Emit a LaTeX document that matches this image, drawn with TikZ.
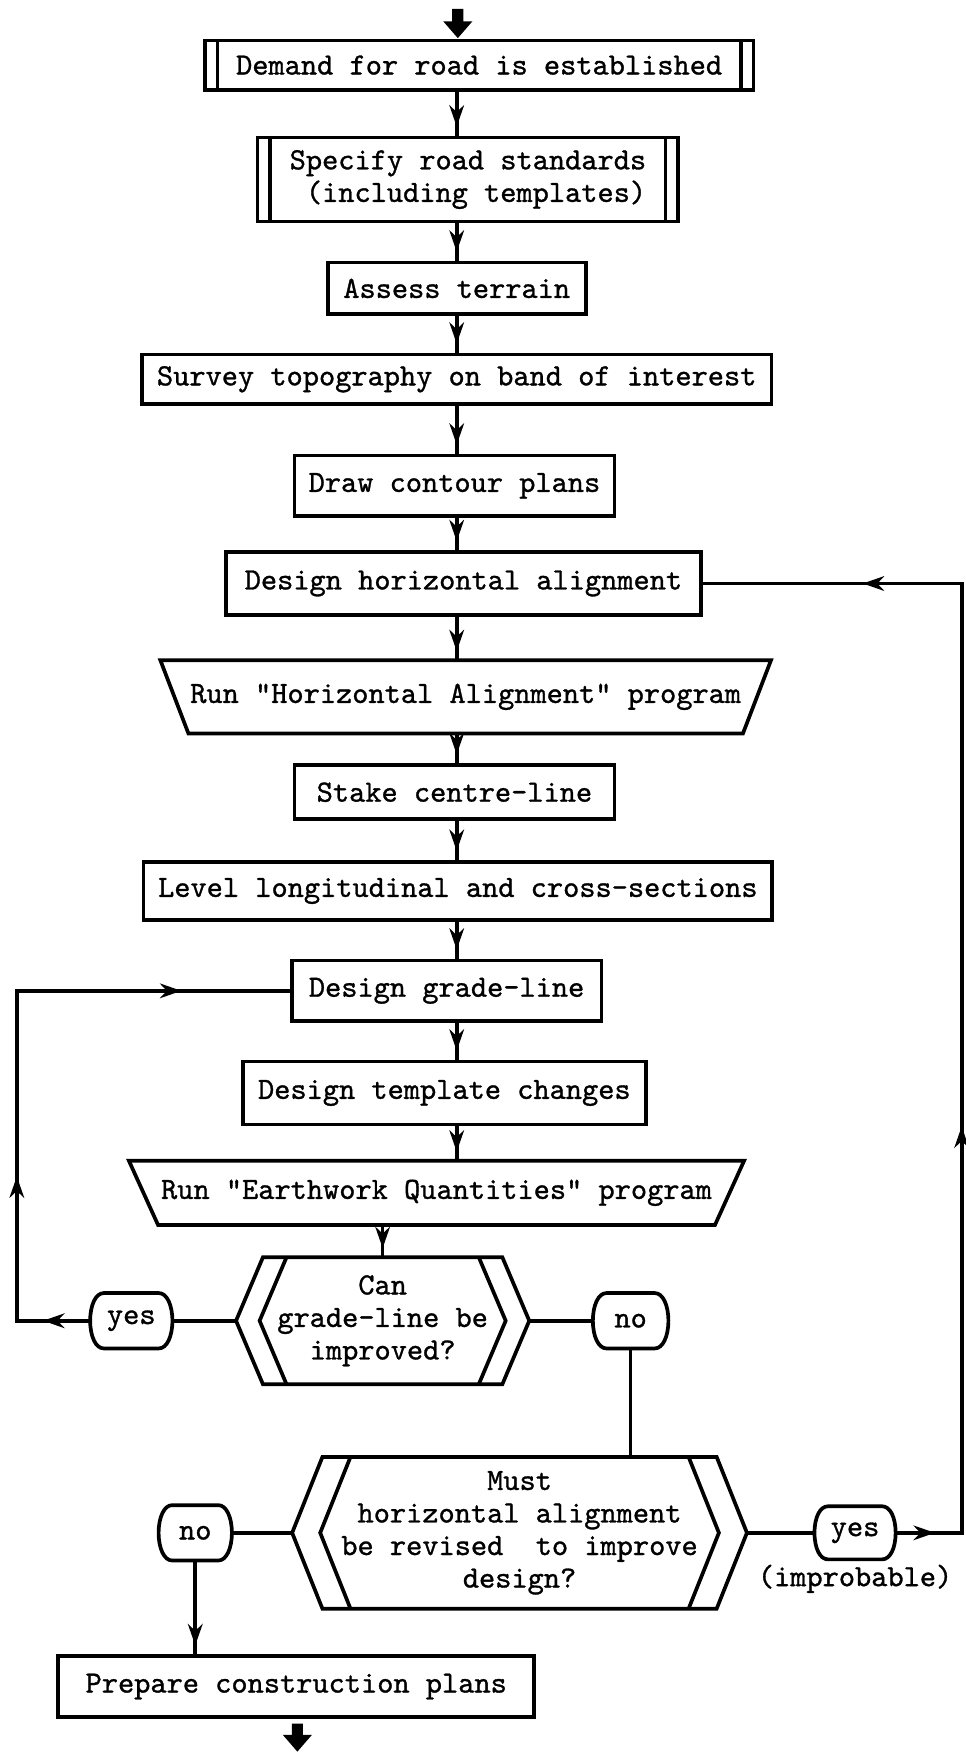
\documentclass[tikz,border=0pt]{standalone}
\usepackage{fontspec}
\usetikzlibrary{arrows.meta,decorations.markings,calc}
\newfontfamily\typew{lmmono10-regular.otf}[FakeBold=1]
\newcommand\flowfont{\typew\fontsize{27.5}{29}\selectfont}
\newcommand\drawhex[3]{%
  \draw (#1.north west) -- (#1.north east) -- ([xshift=#2]#1.east) -- (#1.south east) -- (#1.south west) -- ([xshift=-#2]#1.west) -- cycle;
  \draw ([xshift=#3]#1.north west) -- ([xshift=#3-#2]#1.west) -- ([xshift=#3]#1.south west);
  \draw ([xshift=-#3]#1.north east) -- ([xshift=#2-#3]#1.east) -- ([xshift=-#3]#1.south east);}
\newcommand\drawterm[1]{%
  \draw ($(#1.north west)+(12,0)$) -- ($(#1.north east)+(-12,0)$)
    .. controls ($(#1.north east)+(-5,0)$) and ($(#1.east)+(0,-14)$) .. (#1.east)
    .. controls ($(#1.east)+(0,14)$) and ($(#1.south east)+(-5,0)$) .. ($(#1.south east)+(-12,0)$)
    -- ($(#1.south west)+(12,0)$)
    .. controls ($(#1.south west)+(5,0)$) and ($(#1.west)+(0,14)$) .. (#1.west)
    .. controls ($(#1.west)+(0,-14)$) and ($(#1.north west)+(5,0)$) .. ($(#1.north west)+(12,0)$) -- cycle;}
\tikzset{flowtip/.tip={Stealth[length=19pt,width=13pt,inset=6pt]}}
\begin{document}
\begin{tikzpicture}[x=1pt,y=-1pt,line width=3.3pt,line join=miter,
  every node/.style={font=\flowfont},
  boxnode/.style={draw,rectangle,inner sep=0pt,align=center},
  plain/.style={rectangle,inner sep=0pt,align=center},
  midarrow/.style={postaction={decorate,decoration={markings,mark=at position #1 with {\arrow{flowtip}}}}},
  tip/.style={midarrow=-8pt}]
\useasboundingbox (0,0) rectangle (860,1564);
\fill[white] (0,0) rectangle (860,1564);
\coordinate (sp) at (407,0);
% nodes
\node[boxnode,minimum width=489pt,minimum height=44pt] (b1) at (427,58) {Demand for road is established};
\node[boxnode,minimum width=375pt,minimum height=75pt,align=left] (b2) at (417,160) {Specify road standards\\\ (including templates)};
\node[boxnode,minimum width=230pt,minimum height=46pt] (b3) at (407,257) {Assess terrain};
\node[boxnode,minimum width=561pt,minimum height=44pt] (b4) at (407,338) {Survey topography on band of interest};
\node[boxnode,minimum width=285pt,minimum height=54pt] (b5) at (405,433) {Draw contour plans};
\node[boxnode,minimum width=423pt,minimum height=56pt] (b6) at (413,520) {Design horizontal alignment};
\node[plain,minimum width=490pt,minimum height=62pt] (t7) at (415,621) {Run "Horizontal Alignment" program};
\node[boxnode,minimum width=285pt,minimum height=48pt] (b8) at (405,706) {Stake centre-line};
\node[boxnode,minimum width=560pt,minimum height=52pt] (b9) at (408,794) {Level longitudinal and cross-sections};
\node[boxnode,minimum width=276pt,minimum height=54pt] (b10) at (398,883) {Design grade-line};
\node[boxnode,minimum width=359pt,minimum height=56pt] (b11) at (396,974) {Design template changes};
\node[plain,minimum width=493pt,minimum height=54pt] (t12) at (389,1063) {Run "Earthwork Quantities" program};
\node[plain,minimum width=210pt,minimum height=110pt] (h1) at (341,1177) {Can\\grade-line be\\improved?};
\node[plain,minimum width=70pt,minimum height=46pt] (y1) at (117,1177) {yes};
\node[plain,minimum width=64pt,minimum height=46pt] (n1) at (562,1177) {no};
\node[plain,minimum width=348pt,minimum height=132pt] (h2) at (463,1366) {Must\\horizontal alignment\\be revised\ \ to improve\\design?};
\node[plain,minimum width=62pt,minimum height=46pt] (n2) at (174,1366) {no};
\node[plain,minimum width=69pt,minimum height=44pt] (y2) at (762,1366) {yes};
\node[plain] (imp) at (762,1407) {(improbable)};
\node[boxnode,minimum width=424pt,minimum height=54pt] (b14) at (264,1503) {Prepare construction plans};
% terminals
\drawterm{y1}
\drawterm{n1}
\drawterm{n2}
\drawterm{y2}
% extra bars
\foreach \n in {b1,b2}{
  \draw ([xshift=13pt]\n.north west) -- ([xshift=13pt]\n.south west);
  \draw ([xshift=-13pt]\n.north east) -- ([xshift=-13pt]\n.south east);}
% trapezoids
\draw ([xshift=-25pt]t7.north west) -- ([xshift=25pt]t7.north east) -- (t7.south east) -- (t7.south west) -- cycle;
\draw ([xshift=-26pt]t12.north west) -- ([xshift=26pt]t12.north east) -- (t12.south east) -- (t12.south west) -- cycle;
% hexagons
\drawhex{h1}{24}{21}
\drawhex{h2}{27}{25}
% block arrows
\fill (403,8) -- (413,8) -- (413,19) -- (421,19) -- (408,34) -- (395,19) -- (403,19) -- cycle;
\fill (260,1536) -- (270,1536) -- (270,1546) -- (278,1546) -- (265,1561) -- (252,1546) -- (260,1546) -- cycle;
% main spine
\draw[tip] (b1.south -| sp) -- (b2.north -| sp);
\draw[tip] (b2.south -| sp) -- (b3.north -| sp);
\draw[tip] (b3.south -| sp) -- (b4.north -| sp);
\draw[tip] (b4.south -| sp) -- (b5.north -| sp);
\draw[tip] (b5.south -| sp) -- (b6.north -| sp);
\draw[tip] (b6.south -| sp) -- (t7.north -| sp);
\draw[tip] (t7.south -| sp) -- (b8.north -| sp);
\draw[tip] (b8.south -| sp) -- (b9.north -| sp);
\draw[tip] (b9.south -| sp) -- (b10.north -| sp);
\draw[tip] (b10.south -| sp) -- (b11.north -| sp);
\draw[tip] (b11.south -| sp) -- (t12.north -| sp);
\draw[tip] (t12.south -| h1) -- (h1.north);
% decision branches
\draw ([xshift=-24pt]h1.west) -- (y1.east);
\draw ([xshift=24pt]h1.east) -- (n1.west);
\draw (n1.south) -- (n1.south |- h2.north);
\draw ([xshift=-27pt]h2.west) -- (n2.east);
\draw ([xshift=27pt]h2.east) -- (y2.west);
\draw[tip] (n2.south) -- (n2.south |- b14.north);
% loops
\coordinate (L1) at (15,1177);
\coordinate (L2) at (15,883);
\draw[midarrow=42pt,midarrow=194pt,midarrow=506pt] (y1.west) -- (L1) -- (L2) -- (b10.west);
\coordinate (R1) at (857,1366);
\coordinate (R2) at (857,520);
\draw[midarrow=35pt,midarrow=421pt,midarrow=993pt] (y2.east) -- (R1) -- (R2) -- (b6.east);
\end{tikzpicture}
\end{document}
